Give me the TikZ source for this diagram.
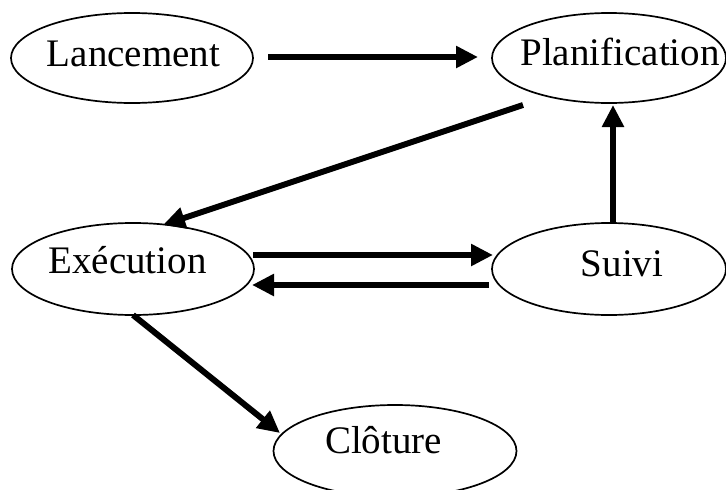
\documentclass[tikz,border=0pt]{standalone}
\usepackage{fontspec}
\setmainfont{Liberation Serif}
\usetikzlibrary{shapes.geometric,arrows.meta}
\begin{document}
\begin{tikzpicture}[x=1pt,y=-1pt,
  phase/.style={draw,ellipse,line width=1.7pt,inner sep=0pt},
  lbl/.style={anchor=base,inner sep=0pt,font=\fontsize{39}{44}\selectfont},
  flow/.style={line width=6pt,-{Triangle[length=22pt,width=21pt]}}]
\useasboundingbox (0,0) rectangle (726,490);
\clip (0,0) rectangle (726,490);
% phases of the project
\node[phase,minimum width=242pt,minimum height=90pt] (lan) at (132,58) {};
\node[phase,minimum width=234pt,minimum height=90pt] (pla) at (609,58) {};
\node[phase,minimum width=242pt,minimum height=92pt] (exe) at (133,269) {};
\node[phase,minimum width=234pt,minimum height=92pt] (sui) at (609,269) {};
\node[phase,minimum width=243pt,minimum height=92pt] (clo) at (395,451) {};
% labels
\node[lbl] (tlan) at (133.5,66) {Lancement};
\node[lbl] (tpla) at (620,65) {Planification};
\node[lbl] (texe) at (127.5,273) {Exécution};
\node[lbl] (tsui) at (622,276) {Suivi};
\node[lbl] (tclo) at (383.5,453) {Clôture};
% transitions
\draw[flow] ([shift={(136,-1)}]lan.center) -- ([shift={(-131,-1)}]pla.center);
\draw[flow] ([shift={(-86,47)}]pla.center) -- ([shift={(30,-44)}]exe.center);
\draw[flow] ([shift={(120,-14)}]exe.center) -- ([shift={(-116,-14)}]sui.center);
\draw[flow] ([shift={(-120,16)}]sui.center) -- ([shift={(119,16)}]exe.center);
\draw[flow] ([shift={(4,-46)}]sui.center) -- ([shift={(4,47)}]pla.center);
\draw[flow] ([shift={(0,46)}]exe.center) -- ([shift={(-115,-18)}]clo.center);
\end{tikzpicture}
\end{document}
